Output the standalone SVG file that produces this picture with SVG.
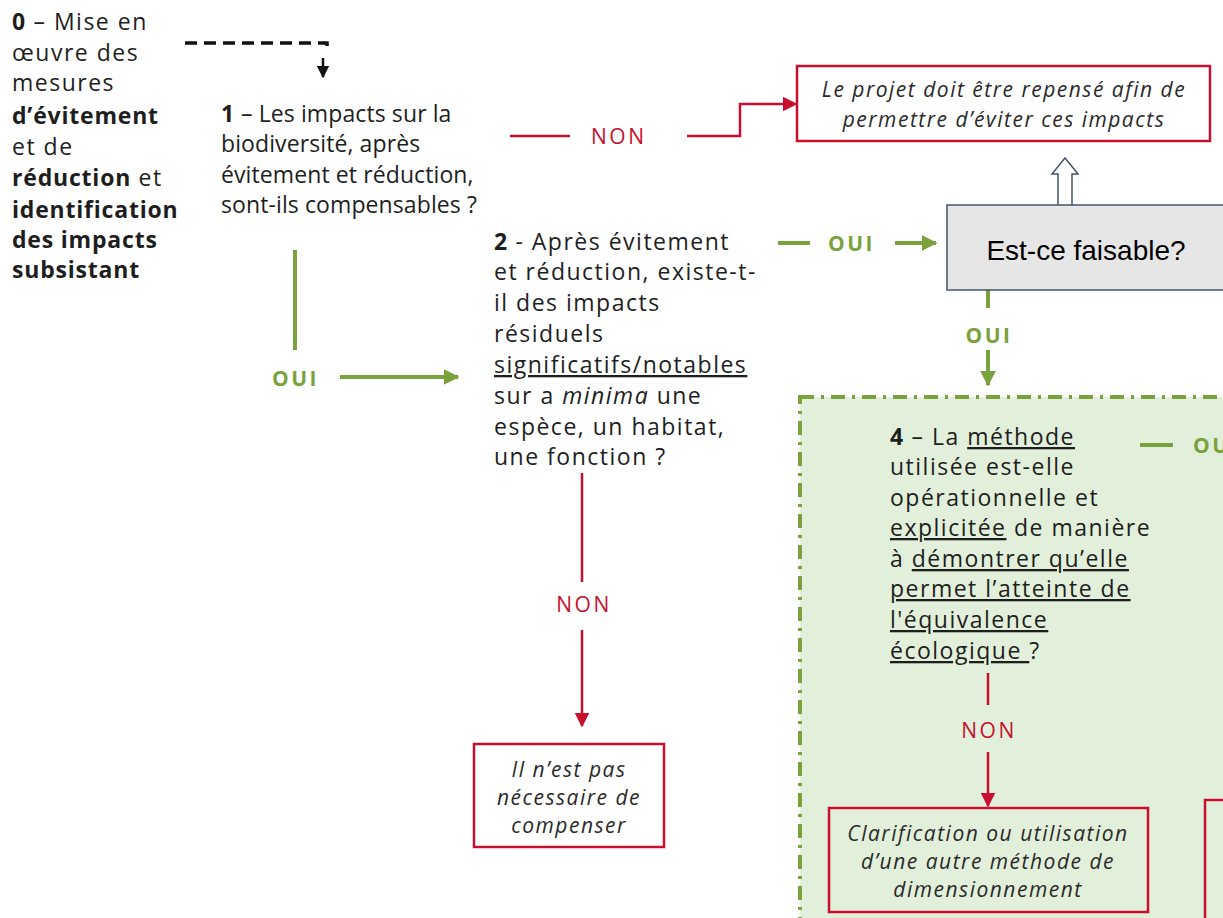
<svg xmlns="http://www.w3.org/2000/svg" width="1223" height="918" viewBox="0 0 1223 918">
<defs>
<style>
.t{font-family:"Open Sans","Noto Sans",sans-serif;font-size:23px;letter-spacing:1.5px;fill:#1e1e1e}
.t1{font-family:"Open Sans","Noto Sans",sans-serif;font-size:23px;letter-spacing:0.1px;fill:#1e1e1e}
.b{font-weight:bold;letter-spacing:0.8px}
.i{font-style:italic}
.u{text-decoration:underline}
.box{font-family:"Open Sans","Noto Sans",sans-serif;font-size:21px;letter-spacing:1.5px;font-style:italic;fill:#2a2a2a;text-anchor:middle}
.red{fill:none;stroke:#c8102e;stroke-width:2.5}
.grn{fill:none;stroke:#7aa23c;stroke-width:4}
.lr{font-family:"Open Sans","Noto Sans",sans-serif;font-size:21px;letter-spacing:2.5px;fill:#c8102e}
.lg{font-family:"Open Sans","Noto Sans",sans-serif;font-size:21px;letter-spacing:2.5px;font-weight:bold;fill:#7aa23c}
.rbox{fill:#fff;stroke:#c8102e;stroke-width:2.5}
</style>
<marker id="ar" viewBox="0 0 10 10" refX="9" refY="5" markerWidth="6" markerHeight="6" orient="auto" markerUnits="strokeWidth"><path d="M0,0L10,5L0,10z" fill="#c8102e"/></marker>
<marker id="ag" viewBox="0 0 10 10" refX="9" refY="5" markerWidth="4" markerHeight="4" orient="auto" markerUnits="strokeWidth"><path d="M0,0L10,5L0,10z" fill="#7aa23c"/></marker>
<marker id="ak" viewBox="0 0 10 10" refX="9" refY="5" markerWidth="5" markerHeight="5" orient="auto" markerUnits="strokeWidth"><path d="M0,0L10,5L0,10z" fill="#111"/></marker>
</defs>
<rect width="1223" height="918" fill="#fff"/>

<g id="container4">
<rect x="800" y="397" width="440" height="540" fill="#e2efda" stroke="#7aa23c" stroke-width="4" stroke-dasharray="14,7,3,7"/>
</g>

<g id="connectors">
<path d="M185,43H327V50" fill="none" stroke="#111" stroke-width="3.5" stroke-dasharray="12,7"/>
<path d="M323,58V77" fill="none" stroke="#111" stroke-width="2.5" marker-end="url(#ak)"/>
<path d="M510,136H570" class="red"/>
<text x="591" y="144" class="lr">NON</text>
<path d="M687,136H740V104H796" class="red" marker-end="url(#ar)"/>
<path d="M778,243H810" class="grn"/>
<text x="828" y="251" class="lg">OUI</text>
<path d="M895,243H936" class="grn" marker-end="url(#ag)"/>
<path d="M1058,206V174H1052L1065,158L1078,174H1072V206" fill="#fff" stroke="#44546a" stroke-width="1.5"/>
<path d="M988,290V308" class="grn"/>
<text x="989" y="343" class="lg" text-anchor="middle">OUI</text>
<path d="M988,350V385" class="grn" marker-end="url(#ag)"/>
<path d="M295,250V350" class="grn"/>
<text x="272" y="386" class="lg">OUI</text>
<path d="M340,377H458" class="grn" marker-end="url(#ag)"/>
<path d="M582,473V582" class="red"/>
<text x="584" y="612" class="lr" text-anchor="middle">NON</text>
<path d="M582,630V726" class="red" marker-end="url(#ar)"/>
<path d="M1140,445H1173" class="grn"/>
<text x="1193" y="453" class="lg">OU</text>
<path d="M988,673V705" class="red"/>
<text x="989" y="738" class="lr" text-anchor="middle">NON</text>
<path d="M988,752V806" class="red" marker-end="url(#ar)"/>
</g>

<g id="node0">
<text class="t">
<tspan x="12" y="30"><tspan class="b">0</tspan> – Mise en</tspan>
<tspan x="12" y="61">œuvre des</tspan>
<tspan x="12" y="91">mesures</tspan>
<tspan x="12" y="124" class="b">d’évitement</tspan>
<tspan x="12" y="155">et de</tspan>
<tspan x="12" y="186"><tspan class="b">réduction</tspan> et</tspan>
<tspan x="12" y="218" class="b">identification</tspan>
<tspan x="12" y="248" class="b">des impacts</tspan>
<tspan x="12" y="278" class="b">subsistant</tspan>
</text>
</g>

<g id="node1">
<text class="t1">
<tspan x="221" y="122"><tspan class="b">1</tspan> – Les impacts sur la</tspan>
<tspan x="221" y="152">biodiversité,  après</tspan>
<tspan x="221" y="183">évitement et réduction,</tspan>
<tspan x="221" y="213">sont-ils compensables ?</tspan>
</text>
</g>

<g id="nodeRepense">
<rect x="797" y="66" width="413" height="75" class="rbox"/>
<text class="box"><tspan x="1004" y="97">Le projet doit être repensé afin de</tspan><tspan x="1004" y="127">permettre d’éviter ces impacts</tspan></text>
</g>

<g id="nodeFaisable">
<rect x="947" y="205" width="290" height="85" fill="#e7e6e6" stroke="#44546a" stroke-width="1.5"/>
<text x="1086" y="260" font-family="Liberation Sans,Arial,sans-serif" font-size="28" fill="#000" text-anchor="middle">Est-ce faisable?</text>
</g>

<g id="node2">
<text class="t">
<tspan x="494" y="250"><tspan class="b">2</tspan> - Après évitement</tspan>
<tspan x="494" y="280">et réduction, existe-t-</tspan>
<tspan x="494" y="311">il des impacts</tspan>
<tspan x="494" y="342">résiduels</tspan>
<tspan x="494" y="373" class="u">significatifs/notables</tspan>
<tspan x="494" y="404">sur a <tspan class="i">minima</tspan> une</tspan>
<tspan x="494" y="435">espèce, un habitat,</tspan>
<tspan x="494" y="465">une fonction ?</tspan>
</text>
</g>

<g id="nodeNonNecessaire">
<rect x="474" y="744" width="190" height="103" class="rbox"/>
<text class="box"><tspan x="569" y="777">Il n’est pas</tspan><tspan x="569" y="805">nécessaire de</tspan><tspan x="569" y="833">compenser</tspan></text>
</g>

<g id="node4">
<text class="t">
<tspan x="890" y="445"><tspan class="b">4</tspan> – La <tspan class="u">méthode</tspan></tspan>
<tspan x="890" y="475">utilisée est-elle</tspan>
<tspan x="890" y="506">opérationnelle et</tspan>
<tspan x="890" y="536"><tspan class="u">explicitée</tspan> de manière</tspan>
<tspan x="890" y="567">à <tspan class="u">démontrer qu’elle</tspan></tspan>
<tspan x="890" y="597" class="u">permet l’atteinte de</tspan>
<tspan x="890" y="628" class="u">l'équivalence</tspan>
<tspan x="890" y="659"><tspan class="u">écologique </tspan>?</tspan>
</text>
</g>

<g id="nodeClarification">
<rect x="829" y="808" width="319" height="104" fill="#e2efda" stroke="#c8102e" stroke-width="2.5"/>
<text class="box"><tspan x="988" y="841">Clarification ou utilisation</tspan><tspan x="988" y="869">d’une autre méthode de</tspan><tspan x="988" y="897">dimensionnement</tspan></text>
</g>

<g id="nodeRight">
<rect x="1205" y="800" width="40" height="140" fill="#e2efda" stroke="#c8102e" stroke-width="2.5"/>
</g>
</svg>
